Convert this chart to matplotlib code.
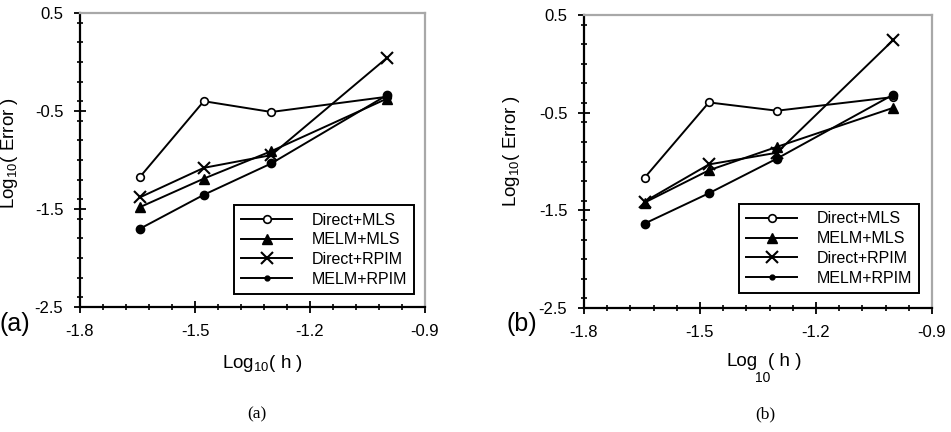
import matplotlib
matplotlib.use('Agg')
import matplotlib.pyplot as plt
from matplotlib.ticker import MultipleLocator

plt.rcParams['font.family'] = ['Liberation Sans', 'DejaVu Sans']
plt.rcParams['mathtext.fontset'] = 'custom'
plt.rcParams['mathtext.rm'] = 'Liberation Sans'
plt.rcParams['mathtext.it'] = 'Liberation Sans'

# log10(h) for the four mesh sizes
log_h = [-1.643, -1.477, -1.301, -1.0]

series_names = ['Direct+MLS', 'MELM+MLS', 'Direct+RPIM', 'MELM+RPIM']

# panel (a)
err_a_direct_mls = [-1.17, -0.40, -0.51, -0.355]
err_a_melm_mls = [-1.48, -1.19, -0.91, -0.375]
err_a_direct_rpim = [-1.38, -1.08, -0.95, 0.04]
err_a_melm_rpim = [-1.70, -1.355, -1.035, -0.34]

# panel (b)
err_b_direct_mls = [-1.165, -0.395, -0.48, -0.34]
err_b_melm_mls = [-1.42, -1.09, -0.85, -0.45]
err_b_direct_rpim = [-1.41, -1.03, -0.91, 0.245]
err_b_melm_rpim = [-1.635, -1.325, -0.97, -0.315]

x_ticks = [-1.8, -1.5, -1.2, -0.9]
y_ticks = [0.5, -0.5, -1.5, -2.5]

markers = [dict(marker='o', mfc='white', ms=5.5, mew=1.2),
           dict(marker='^', mfc='black', ms=7.5, mew=1.0),
           dict(marker='x', mfc='black', ms=8, mew=1.5),
           dict(marker='o', mfc='black', ms=6, mew=1.0)]


def draw_panel(ax, data, legend_anchor):
    for vals, name, mk in zip(data, series_names, markers):
        ax.plot(log_h, vals, color='black', lw=1.4, mec='black',
                label=name, **mk)
    ax.set_xlim(-1.8, -0.9)
    ax.set_ylim(-2.5, 0.5)
    ax.set_xticks(x_ticks)
    ax.set_xticklabels([str(v) for v in x_ticks])
    ax.set_yticks(y_ticks)
    ax.set_yticklabels([str(v) for v in y_ticks])
    ax.xaxis.set_minor_locator(MultipleLocator(0.06))
    ax.yaxis.set_minor_locator(MultipleLocator(0.2))
    ax.tick_params(which='major', direction='inout', length=8, width=1.3,
                   labelsize=12, pad=8)
    ax.tick_params(which='minor', direction='inout', length=5, width=1.2)
    for s in ['left', 'bottom']:
        ax.spines[s].set_linewidth(1.6)
        ax.spines[s].set_color('black')
    for s in ['top', 'right']:
        ax.spines[s].set_linewidth(1.6)
        ax.spines[s].set_color('#a8a8a8')
    leg = ax.legend(loc='lower right', bbox_to_anchor=legend_anchor,
                    borderaxespad=0, fancybox=False, framealpha=1,
                    edgecolor='black', fontsize=11.5, handlelength=3.2,
                    labelspacing=0.3, handletextpad=1.2, borderpad=0.45)
    leg.get_frame().set_linewidth(1.4)
    leg.legend_handles[3].set_markersize(3.5)


fig = plt.figure(figsize=(9.51, 4.32), dpi=100)

ax_a = fig.add_axes([80 / 951, 125 / 432, 345 / 951, 294 / 432])
draw_panel(ax_a, [err_a_direct_mls, err_a_melm_mls,
                  err_a_direct_rpim, err_a_melm_rpim], (0.968, 0.044))
ax_b = fig.add_axes([584 / 951, 124 / 432, 348 / 951, 293 / 432])
draw_panel(ax_b, [err_b_direct_mls, err_b_melm_mls,
                  err_b_direct_rpim, err_b_melm_rpim], (0.963, 0.051))

# axis titles
fig.text(10 / 951, 1 - 153 / 432, r'Log$_{10}$( Error )', rotation=90,
         ha='center', va='center', fontsize=13.5)
fig.text(512 / 951, 1 - 151 / 432, r'Log$_{10}$( Error )', rotation=90,
         ha='center', va='center', fontsize=13.5)
fig.text(262 / 951, 1 - 364 / 432, r'Log$_{10}$( h )', ha='center',
         va='center', fontsize=13.5)
fig.text(742 / 951, 1 - 362 / 432, 'Log', ha='center', va='center',
         fontsize=13.5)
fig.text(763 / 951, 1 - 378 / 432, '10', ha='center', va='center',
         fontsize=10)
fig.text(785 / 951, 1 - 362 / 432, '( h )', ha='center', va='center',
         fontsize=13.5)

# panel tags
fig.text(15 / 951, 1 - 324 / 432, '(a)', ha='center', va='center', fontsize=18)
fig.text(522 / 951, 1 - 324 / 432, '(b)', ha='center', va='center', fontsize=18)

# captions
fig.text(257 / 951, 1 - 414 / 432, '(a)', ha='center', va='center',
         fontsize=12.5, family='Liberation Serif')
fig.text(765 / 951, 1 - 414 / 432, '(b)', ha='center', va='center',
         fontsize=12.5, family='Liberation Serif')

fig.savefig('out.png', dpi=100)
